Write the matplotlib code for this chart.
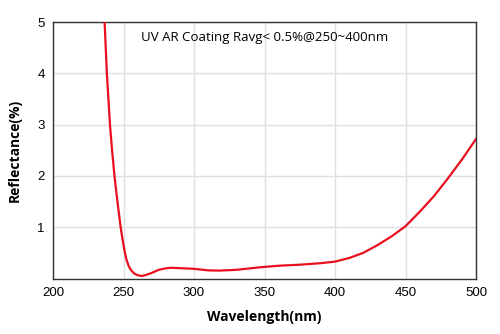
import matplotlib.pyplot as plt

wavelength = [236.6, 238.2, 240.4, 241.9, 243.6, 245.7, 248.0, 249.4, 251.0, 252.3,
              253.9, 255.5, 257.5, 260, 263, 266, 270, 275, 280, 284, 292, 300, 310,
              318, 330, 347, 360, 375, 390, 400, 410, 420, 430, 440, 450, 460, 470,
              480, 490, 500]
reflectance = [5.0, 4.0, 3.0, 2.5, 2.0, 1.5, 1.0, 0.75, 0.5, 0.35,
               0.23, 0.16, 0.1, 0.065, 0.05, 0.07, 0.11, 0.17, 0.2, 0.21, 0.2, 0.19, 0.16,
               0.155, 0.17, 0.22, 0.25, 0.27, 0.3, 0.33, 0.4, 0.5, 0.65, 0.82, 1.02,
               1.3, 1.6, 1.95, 2.32, 2.72]

x_ticks = [200, 250, 300, 350, 400, 450, 500]
y_ticks = [1, 2, 3, 4, 5]
title = "UV AR Coating Ravg< 0.5%@250~400nm"


def main():
	fig = plt.figure(figsize=(5, 3.34), dpi=100)
	ax = fig.add_axes([0.106, 0.166, 0.846, 0.768])

	ax.plot(wavelength, reflectance, color="#e8101e", lw=1.6, zorder=3,
	        solid_joinstyle="round")

	ax.set_xlim(200, 500)
	ax.set_ylim(0, 5)
	ax.set_xticks(x_ticks)
	ax.set_yticks(y_ticks)
	ax.tick_params(length=0, labelsize=9.5, pad=6)
	for lab in ax.get_xticklabels() + ax.get_yticklabels():
		lab.set_family("Liberation Sans")
	ax.grid(True, color="#e0e0e0", lw=1)
	for s in ax.spines.values():
		s.set_color("#333333")
		s.set_linewidth(1)

	ax.text(0.5, 0.94, title, transform=ax.transAxes, ha="center", va="center",
	        fontsize=9.5, family="Open Sans")

	ax.set_xlabel("Wavelength(nm)", fontsize=10, fontweight="bold",
	              family="Open Sans", labelpad=8)
	ax.set_ylabel("Reflectance(%)", fontsize=10, fontweight="bold",
	              family="Open Sans", labelpad=11)

	fig.savefig("out.png", dpi=100)


if __name__ == '__main__':
	main()
